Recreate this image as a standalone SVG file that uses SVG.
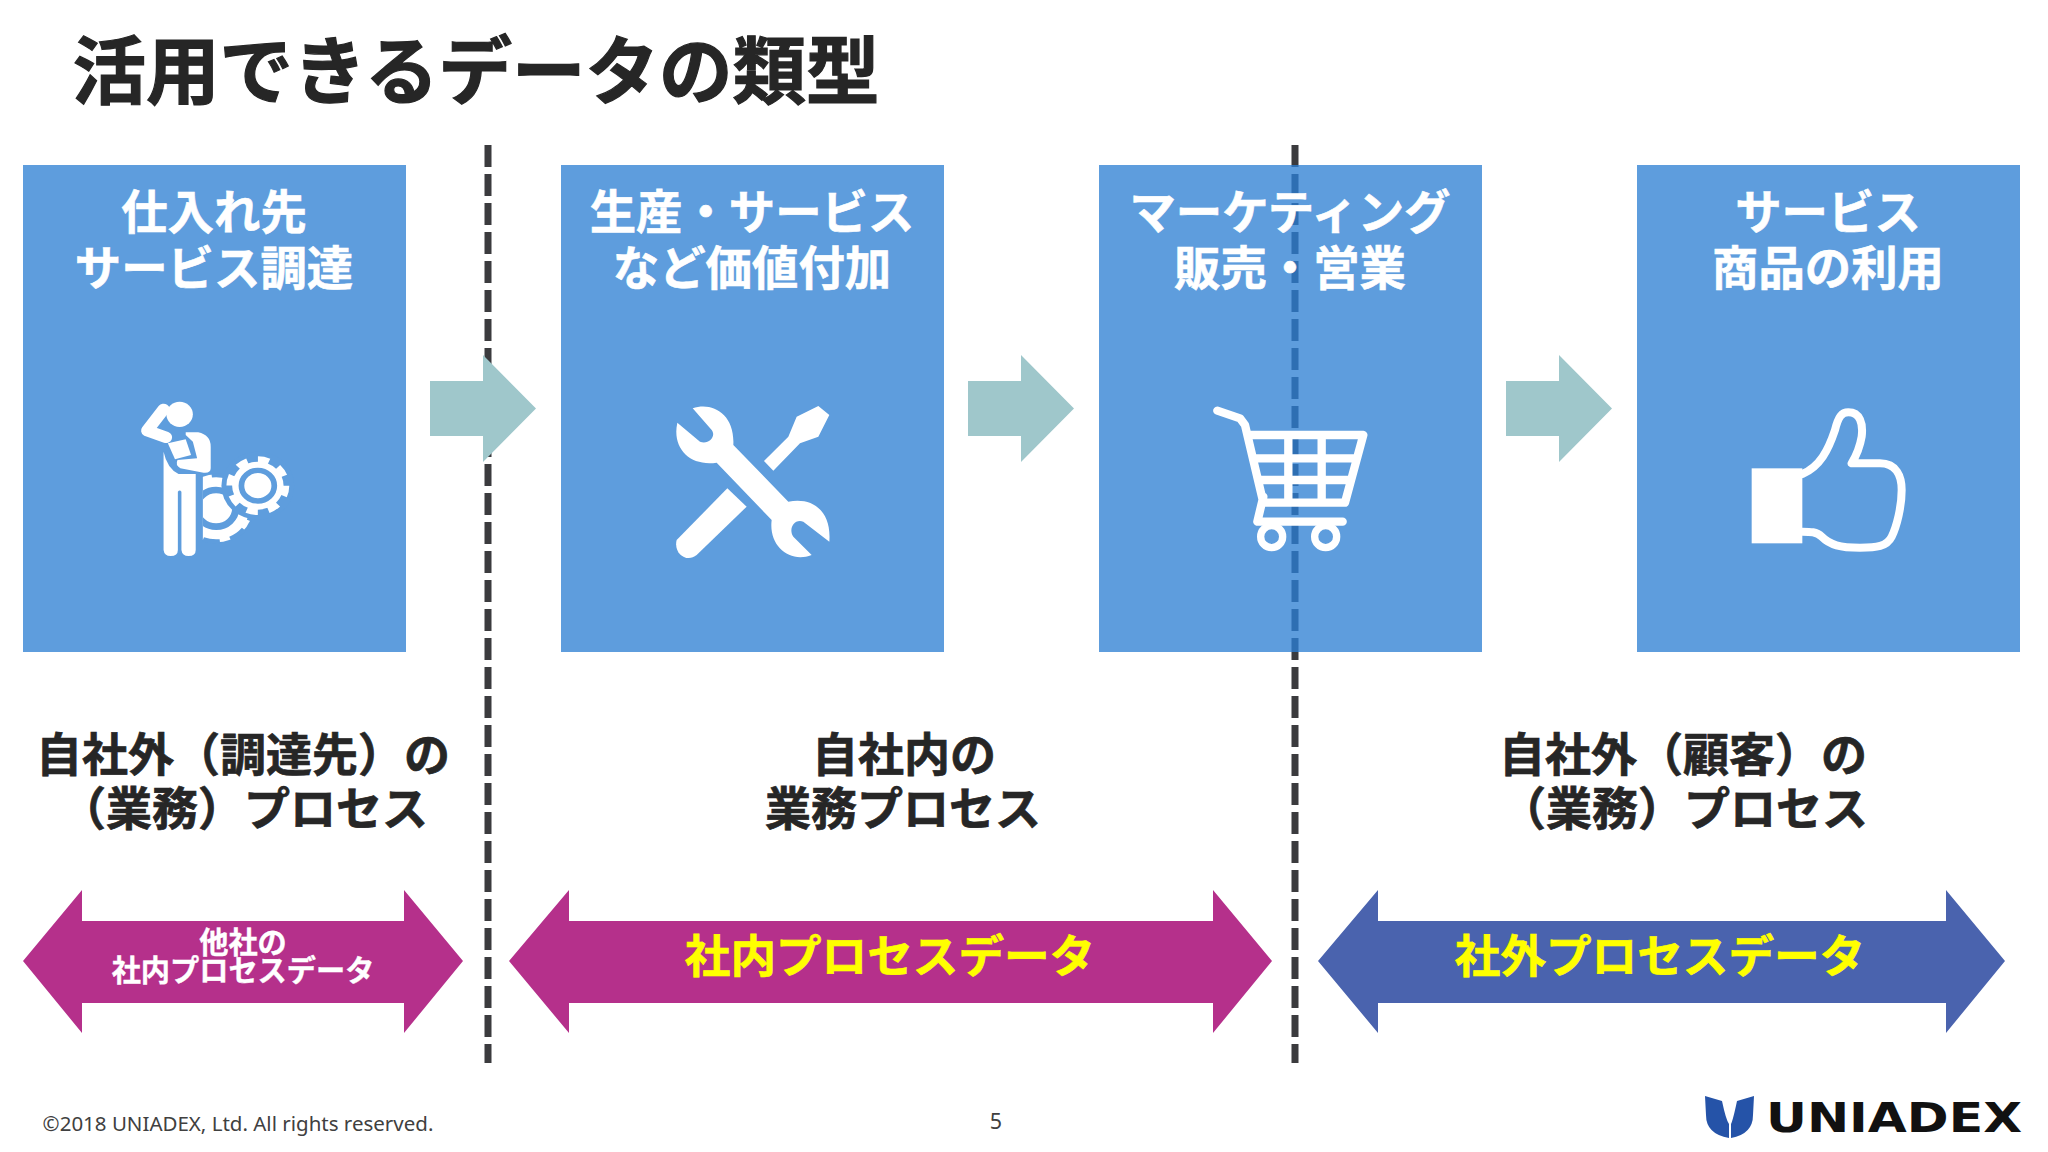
<svg xmlns="http://www.w3.org/2000/svg" width="2048" height="1152" viewBox="0 0 2048 1152">
<style>
text{font-family:"Noto Sans CJK JP","Noto Sans",sans-serif;font-weight:700;text-anchor:middle}
.h{font-size:46.4px;fill:#fff;stroke:#fff;stroke-width:.6px}
.m{font-size:46px;fill:#262626;stroke:#262626;stroke-width:.7px}
.y{font-size:45.6px;fill:#ff0;stroke:#ff0;stroke-width:.6px}
.s{font-size:29.2px;fill:#fff;stroke:#fff;stroke-width:.4px}
.box{fill:#5e9ddd}
.dash{fill:none;stroke:#3b3b3e;stroke-width:7;stroke-dasharray:22 7}
.flow{fill:#9fc7cb}
.ic{fill:#fff}
.st{fill:none;stroke:#fff;stroke-linecap:round;stroke-linejoin:round}
</style>
<defs><clipPath id="inBox"><rect x="1099" y="165" width="383" height="487"/></clipPath>
<clipPath id="lg"><rect x="568" y="340" width="140" height="215"/></clipPath></defs>
<rect width="2048" height="1152" fill="#fff"/>
<g id="title"><text x="476" y="98" style="font-size:73.5px;fill:#262626;stroke:#262626;stroke-width:1.2px">活用できるデータの類型</text></g>
<g id="dividers">
<line class="dash" x1="488" y1="145" x2="488" y2="1063"/>
<line class="dash" x1="1295" y1="145" x2="1295" y2="1063"/>
</g>
<g id="node-supplier">
<rect class="box" x="23" y="165" width="383" height="487"/>
<text class="h" x="214" y="229">仕入れ先</text><text class="h" x="214" y="285">サービス調達</text>
<g transform="translate(0,360) scale(.35714,.33333)">
<ellipse class="ic" cx="503" cy="163" rx="37" ry="38"/>
<path class="st" stroke-width="34" d="M458,148L412,212L465,232"/>
<path class="ic" d="M458,275L458,570Q460,588 478,588Q498,588 498,570L498,395Q503,388 508,395L508,570Q510,588 528,588Q548,588 548,570L548,342L500,342Q468,325 458,275Z"/>
<path class="ic" d="M520,217L555,217Q590,225 590,260L590,325Q590,340 570,338L505,325Q490,315 497,300L552,295L540,245L520,225Z"/>
<path class="ic" d="M470,250L520,238L535,285L490,298Z"/>
<g clip-path="url(#lg)">
<circle class="ic" cx="605" cy="445" r="102"/>
<circle cx="605" cy="445" r="55" fill="none" stroke="#5e9ddd" stroke-width="20"/>
<circle cx="605" cy="445" r="100" fill="none" stroke="#5e9ddd" stroke-width="14" stroke-dasharray="48 30" stroke-dashoffset="10"/>
</g>
<circle cx="722" cy="377" r="102" fill="#5e9ddd"/>
<circle class="ic" cx="722" cy="377" r="72"/>
<circle cx="722" cy="377" r="78" fill="none" stroke="#fff" stroke-width="20" stroke-dasharray="31.4 29.8"/>
<circle cx="722" cy="377" r="46" fill="#fff" stroke="#5e9ddd" stroke-width="16"/>
</g>
</g>
<g id="node-production">
<rect class="box" x="561" y="165" width="383" height="487"/>
<text class="h" x="752" y="229">生産・サービス</text><text class="h" x="752" y="285">など価値付加</text>
<g class="ic" transform="translate(640,380) scale(.33333)">
<path d="M158,85C215,65 285,100 280,195L445,365C520,350 575,395 568,485L490,425C460,415 445,450 460,470L515,525C450,550 385,500 395,420L230,248C150,260 95,205 112,128L180,185C205,195 230,170 215,150Z"/>
<path d="M262,325L320,380L170,525C140,550 100,520 110,480Z"/>
<path d="M372,243L445,170L470,110L535,78L568,105L535,170L480,190L400,272Z"/>
</g>
</g>
<g id="node-marketing">
<rect class="box" x="1099" y="165" width="383" height="487"/>
<line clip-path="url(#inBox)" x1="1295" y1="145" x2="1295" y2="1063" style="stroke:#2e6fb3;stroke-width:7;stroke-dasharray:22 7"/>
<text class="h" x="1290" y="229">マーケティング</text><text class="h" x="1290" y="285">販売・営業</text>
<g transform="translate(1180,380) scale(.33333)">
<path class="st" stroke-width="25" d="M112,92L180,115L195,135L250,368L495,368L550,165L205,165M225,235L528,235M245,300L510,300M325,165L325,368M425,165L425,368M250,350L232,425L488,425"/>
<circle cx="275" cy="470" r="33" fill="none" stroke="#fff" stroke-width="22"/>
<circle cx="437" cy="470" r="33" fill="none" stroke="#fff" stroke-width="22"/>
</g>
</g>
<g id="node-usage">
<rect class="box" x="1637" y="165" width="383" height="487"/>
<text class="h" x="1828" y="229">サービス</text><text class="h" x="1828" y="285">商品の利用</text>
<g transform="translate(1720,380) scale(.33333)">
<rect class="ic" x="95" y="265" width="152" height="225"/>
<path class="st" stroke-width="24" d="M247,282C300,260 325,210 345,150C355,110 365,97 385,97C420,97 430,130 425,170C420,200 410,225 395,250L480,250C530,250 545,290 545,330C545,380 530,440 515,470C500,500 470,503 420,503C360,503 330,495 305,470C290,455 270,455 247,455"/>
</g>
</g>
<g id="connectors">
<path class="flow" d="M430,381H483V355L536,408.500L483,462V436H430Z"/>
<path class="flow" d="M968,381H1021V355L1074,408.500L1021,462V436H968Z"/>
<path class="flow" d="M1506,381H1559V355L1612,408.500L1559,462V436H1506Z"/>
</g>
<g id="label-external-supply"><text class="m" x="243" y="771">自社外（調達先）の</text><text class="m" x="244" y="825">（業務）プロセス</text></g>
<g id="label-internal"><text class="m" x="904" y="771">自社内の</text><text class="m" x="903" y="825">業務プロセス</text></g>
<g id="label-external-customer"><text class="m" x="1683" y="771">自社外（顧客）の</text><text class="m" x="1684" y="825">（業務）プロセス</text></g>
<g id="band-other"><path fill="#b5308b" d="M23,961L82,890V921H404V890L463,961L404,1033V1003H82V1033Z"/>
<text class="s" x="243" y="953">他社の</text><text class="s" x="243" y="981">社内プロセスデータ</text></g>
<g id="band-internal"><path fill="#b5308b" d="M509,961L569,890V921H1213V890L1272,961L1213,1033V1003H569V1033Z"/>
<text class="y" x="890" y="973">社内プロセスデータ</text></g>
<g id="band-external"><path fill="#4a63ae" d="M1318,961L1378,890V921H1946V890L2005,961L1946,1033V1003H1378V1033Z"/>
<text class="y" x="1660" y="973">社外プロセスデータ</text></g>
<g id="footer">
<text x="238" y="1131" style="font-family:'Noto Sans',sans-serif;font-weight:400;font-size:20.500px;fill:#404040">©2018 UNIADEX, Ltd. All rights reserved.</text>
<text x="996" y="1129" style="font-family:'Noto Sans',sans-serif;font-weight:400;font-size:21.500px;fill:#404040">5</text>
</g>
<g id="logo">
<path fill="#2553a8" d="M1705,1096L1722,1101Q1726,1120 1729,1124L1729,1138Q1706,1134 1706,1115Z"/>
<path fill="#2553a8" d="M1754,1096L1737,1101Q1733,1120 1731,1124L1731,1138Q1753,1134 1753,1115Z"/>
<text x="1766" y="1132" textLength="256" lengthAdjust="spacingAndGlyphs" style="font-family:'DejaVu Sans',sans-serif;font-weight:700;font-size:40px;fill:#111;text-anchor:start">UNIADEX</text>
</g>
</svg>
